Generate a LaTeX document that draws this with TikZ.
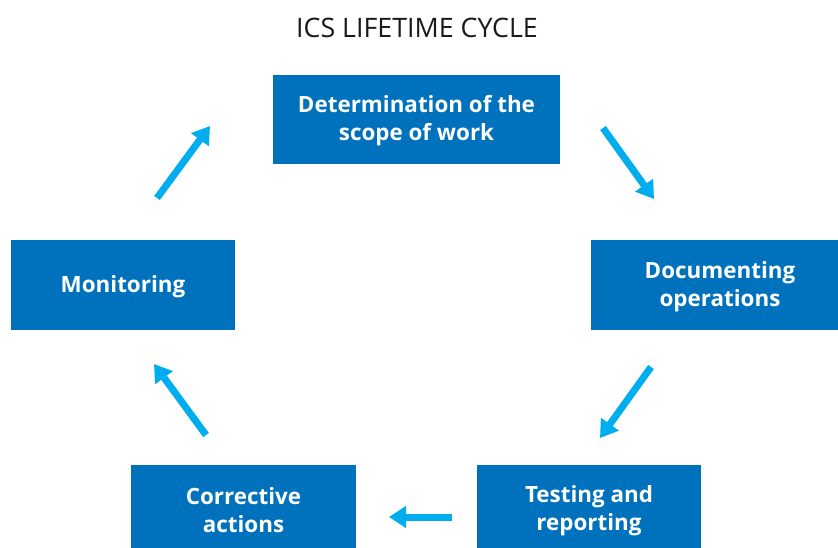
\documentclass[tikz,border=0pt]{standalone}
\usepackage{fontspec}
\setmainfont{Open Sans}
\usetikzlibrary{arrows.meta}
\definecolor{boxblue}{HTML}{0071BC}
\definecolor{arrcyan}{HTML}{00AEEF}
\definecolor{titlegray}{HTML}{1A1A1A}
\tikzset{
  stagebox/.style={fill=boxblue, inner sep=0pt},
  stagetext/.style={text=white, font=\fontsize{22.4}{28}\selectfont\bfseries, align=center, inner sep=0pt},
  cyclearrow/.style={draw=arrcyan, line width=7pt, -{Triangle[width=21pt,length=17pt]}},
}
\begin{document}
\begin{tikzpicture}[x=1pt,y=-1pt]
\useasboundingbox (0,0) rectangle (838,548);
\node[font=\fontsize{26.8}{30}\selectfont, text=titlegray] (title) at (417,28) {ICS LIFETIME CYCLE};
\node[stagebox, minimum width=287pt, minimum height=89pt] (scope) at (416.5,119.5) {};
\node[stagebox, minimum width=258pt, minimum height=90pt] (doc) at (720,285) {};
\node[stagebox, minimum width=224pt, minimum height=90pt] (test) at (589,510) {};
\node[stagebox, minimum width=225pt, minimum height=90pt] (corr) at (243.5,510) {};
\node[stagebox, minimum width=224pt, minimum height=90pt] (mon) at (123,285) {};
\node[stagetext] (scopet) at ([yshift=-1pt]scope.center) {Determination of the\\scope of work};
\node[stagetext] (doct) at ([yshift=-2pt]doc.center) {Documenting\\operations};
\node[stagetext] (testt) at ([yshift=-0.5pt]test.center) {Testing and\\reporting};
\node[stagetext] (corrt) at ([yshift=-0.5pt]corr.center) {Corrective\\actions};
\node[stagetext] (mont) at ([yshift=-2pt]mon.center) {Monitoring};
\coordinate (a1s) at (603,128); \coordinate (a1e) at (654,199);
\coordinate (a2s) at (651,367); \coordinate (a2e) at (600,438);
\coordinate (a3s) at (452,517); \coordinate (a3e) at (389,517);
\coordinate (a4s) at (206,435); \coordinate (a4e) at (154,364);
\coordinate (a5s) at (157,198); \coordinate (a5e) at (210,126);
\draw[cyclearrow] (a1s) -- (a1e);
\draw[cyclearrow] (a2s) -- (a2e);
\draw[cyclearrow] (a3s) -- (a3e);
\draw[cyclearrow] (a4s) -- (a4e);
\draw[cyclearrow] (a5s) -- (a5e);
\end{tikzpicture}
\end{document}
